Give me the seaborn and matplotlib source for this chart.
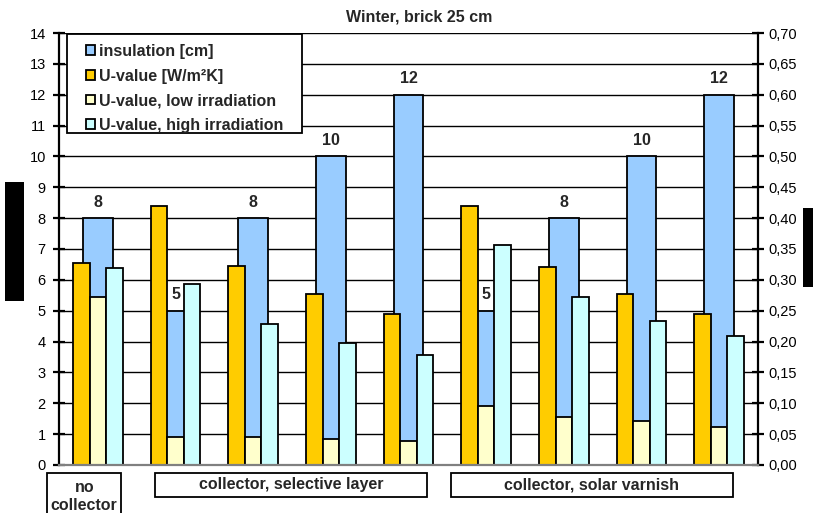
import matplotlib
matplotlib.use("Agg")
import matplotlib.pyplot as plt
import matplotlib.transforms as mtransforms
from matplotlib.patches import Rectangle, Patch
from matplotlib.ticker import FuncFormatter, MultipleLocator
import pandas as pd
import seaborn as sns

# ---- data -------------------------------------------------------------
categories = ["no collector",
              "selective 5", "selective 8", "selective 10", "selective 12",
              "varnish 5", "varnish 8", "varnish 10", "varnish 12"]
insulation_cm = [8, 5, 8, 10, 12, 5, 8, 10, 12]
u_value = [0.328, 0.419, 0.322, 0.277, 0.245, 0.419, 0.321, 0.277, 0.245]
u_low = [0.273, 0.046, 0.046, 0.042, 0.039, 0.095, 0.078, 0.072, 0.062]
u_high = [0.319, 0.293, 0.228, 0.198, 0.179, 0.356, 0.273, 0.234, 0.209]

insulation_name = "insulation [cm]"
u_names = ["U-value [W/m²K]", "U-value, low irradiation", "U-value, high irradiation"]
group_labels = ["no\ncollector", "collector, selective layer", "collector, solar varnish"]
group_spans = [(-0.65, 0.30), (0.735, 4.24), (4.545, 8.18)]
title = "Winter, brick 25 cm"

colors = {"insulation [cm]": "#99CCFF",
          "U-value [W/m²K]": "#FFCC00",
          "U-value, low irradiation": "#FFFFCC",
          "U-value, high irradiation": "#CCFFFF"}

ins_df = pd.DataFrame({"category": categories, "insulation": insulation_cm})
u_df = pd.DataFrame({
    "category": categories * 3,
    "series": [u_names[0]] * 9 + [u_names[1]] * 9 + [u_names[2]] * 9,
    "value": u_value + u_low + u_high,
})

# ---- figure -----------------------------------------------------------
sns.set_theme(style="white")
plt.rcParams["font.family"] = ["Liberation Sans", "DejaVu Sans"]

BOLD = 11.5
W, H = 813, 513
fig = plt.figure(figsize=(W / 100, H / 100), dpi=100)
ax_l, ax_r, ax_t, ax_b = 59, 758, 33, 465
ax = fig.add_axes([ax_l / W, 1 - ax_b / H, (ax_r - ax_l) / W, (ax_b - ax_t) / H])
ax2 = ax.twinx()

edge_kw = dict(edgecolor="black", linewidth=1.3)

sns.barplot(data=ins_df, x="category", y="insulation", order=categories,
            color=colors[insulation_name], saturation=1, width=0.386,
            errorbar=None, ax=ax, **edge_kw)
ax.bar_label(ax.containers[0], labels=[str(v) for v in insulation_cm],
             padding=6, fontsize=BOLD, fontweight="bold")

sns.barplot(data=u_df, x="category", y="value", hue="series", order=categories,
            hue_order=u_names, palette=[colors[n] for n in u_names],
            saturation=1, width=0.643, errorbar=None, legend=False,
            ax=ax2, **edge_kw)

for a in (ax, ax2):
    a.set_xlim(-0.5, len(categories) - 0.5)
    a.set_xlabel("")
    a.set_ylabel("")
    a.set_xticks([])
    for s in a.spines.values():
        s.set_visible(False)

ax.set_ylim(0, 14)
ax2.set_ylim(0, 0.70)
ax.yaxis.set_major_locator(MultipleLocator(1))
ax2.yaxis.set_major_locator(MultipleLocator(0.05))
ax2.yaxis.set_major_formatter(FuncFormatter(lambda v, p: f"{v:.2f}".replace(".", ",")))

ax.set_axisbelow(True)
ax.yaxis.grid(True, color="black", linewidth=1.0)
ax.spines["left"].set_visible(True)
ax.spines["left"].set_color("black")
ax.spines["left"].set_linewidth(1.6)
ax2.spines["right"].set_visible(True)
ax2.spines["right"].set_color("black")
ax2.spines["right"].set_linewidth(1.6)
ax2.spines["bottom"].set_visible(True)
ax2.spines["bottom"].set_color("#808080")
ax2.spines["bottom"].set_linewidth(1.6)

ax.tick_params(axis="y", left=True, direction="inout", length=9, width=1.6,
               labelsize=10.5, colors="black", pad=5)
ax2.tick_params(axis="y", right=True, direction="inout", length=9, width=1.6,
                labelsize=10.5, colors="black", pad=3)

# title
fig.text(419 / W, 1 - 17 / H, title, ha="center", va="center",
         fontsize=BOLD, fontweight="bold")

# legend: white framed box with the entries inside
fig.add_artist(Rectangle((67 / W, 1 - 133 / H), 235 / W, 99 / H,
                         transform=fig.transFigure, facecolor="white",
                         edgecolor="black", linewidth=1.3, zorder=4))
handles = [Patch(facecolor=colors[insulation_name], **edge_kw, label=insulation_name)]
handles += [Patch(facecolor=colors[n], **edge_kw, label=n) for n in u_names]
leg = fig.legend(handles=handles, loc="upper left",
                 bbox_to_anchor=(86 / W, 1 - 44 / H), borderaxespad=0,
                 frameon=False, prop={"size": BOLD, "weight": "bold"},
                 handlelength=0.56, handleheight=0.56, handletextpad=0.25,
                 labelspacing=0.6, borderpad=0)
leg.set_zorder(5)

# group captions below the axis
blend = mtransforms.blended_transform_factory(ax.transData, fig.transFigure)
box_top = 1 - 473 / H
for (x0, x1), text in zip(group_spans, group_labels):
    box_h = (60 if "\n" in text else 24) / H
    fig.add_artist(Rectangle((x0, box_top - box_h), x1 - x0, box_h,
                             transform=blend, facecolor="white",
                             edgecolor="black", linewidth=1.3, clip_on=False))
    if "\n" in text:
        top_line, bottom_line = text.split("\n")
        fig.text((x0 + x1) / 2, 1 - 488 / H, top_line, transform=blend,
                 ha="center", va="center", fontsize=BOLD, fontweight="bold")
        fig.text((x0 + x1) / 2, 1 - 505 / H, bottom_line, transform=blend,
                 ha="center", va="center", fontsize=BOLD, fontweight="bold")
    else:
        fig.text((x0 + x1) / 2, 1 - 485 / H, text, transform=blend,
                 ha="center", va="center", fontsize=BOLD, fontweight="bold")

# solid blocks beside both value axes
fig.add_artist(Rectangle((5 / W, 1 - 301 / H), 19 / W, 119 / H,
                         transform=fig.transFigure, facecolor="black",
                         edgecolor="none"))
fig.add_artist(Rectangle((803 / W, 1 - 287 / H), 10 / W, 79 / H,
                         transform=fig.transFigure, facecolor="black",
                         edgecolor="none"))

fig.savefig("out.png", dpi=100)
